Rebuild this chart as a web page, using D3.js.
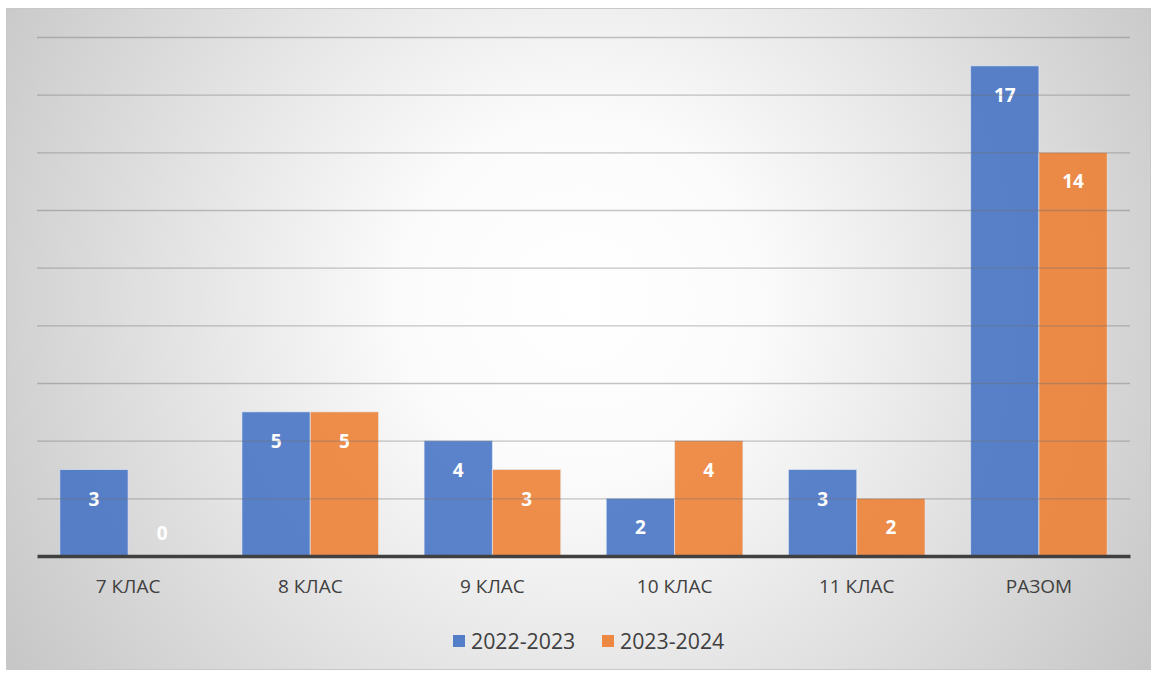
<!DOCTYPE html>
<html><head><meta charset="utf-8">
<script src="https://cdn.jsdelivr.net/npm/d3@7"></script>
<style>body{margin:0;background:#fff}svg{display:block}</style>
</head><body>
<svg id="c" width="1157" height="674"></svg>
<script>
const categories = ["7 КЛАС","8 КЛАС","9 КЛАС","10 КЛАС","11 КЛАС","РАЗОМ"];
const seriesNames = ["2022-2023","2023-2024"];
const values2022 = [3,5,4,2,3,17];
const values2023 = [0,5,3,4,2,14];
const gridTicks = [0,2,4,6,8,10,12,14,16,18];
const colors = ["#4472c4","#ed7d31"];

const svg = d3.select("#c");
const defs = svg.append("defs");
const rg = defs.append("radialGradient").attr("id","bg").attr("gradientUnits","userSpaceOnUse")
  .attr("cx",580).attr("cy",300).attr("r",720);
rg.append("stop").attr("offset","0").attr("stop-color","#ffffff");
rg.append("stop").attr("offset","0.25").attr("stop-color","#fbfbfb");
rg.append("stop").attr("offset","1").attr("stop-color","#c2c2c2");

svg.append("rect").attr("x",6.5).attr("y",8.5).attr("width",1144).attr("height",661)
  .attr("fill","url(#bg)").attr("stroke","#c8c8c8").attr("stroke-width",1);

const x0 = d3.scaleBand().domain(categories).range([37,1130]).paddingInner(0.25).paddingOuter(0.125);
const x1 = d3.scaleBand().domain(seriesNames).range([0,x0.bandwidth()]);
const y = d3.scaleLinear().domain([0,18]).range([556,37]);

const g = svg.append("g");
const data = categories.map((c,i)=>({c, vals:[values2022[i],values2023[i]]}));

const groups = g.selectAll("g.cat").data(data).join("g").attr("transform",d=>`translate(${x0(d.c)},0)`);
groups.selectAll("rect").data(d=>d.vals.map((v,j)=>({v,j}))).join("rect")
  .attr("x",d=>x1(seriesNames[d.j])).attr("width",x1.bandwidth())
  .attr("y",d=>y(d.v)).attr("height",d=>y(0)-y(d.v))
  .attr("fill",d=>colors[d.j]).attr("fill-opacity",0.88)
  .attr("stroke","#e8eef8").attr("stroke-opacity",0.6).attr("stroke-width",1);

// gridlines (drawn over bars, faint)
g.selectAll("line.grid").data(gridTicks.filter(t=>t>0)).join("line")
  .attr("x1",37).attr("x2",1130).attr("y1",d=>y(d)+0.5).attr("y2",d=>y(d)+0.5)
  .attr("stroke","#6f6f6f").attr("stroke-opacity",0.4).attr("stroke-width",1.3);

// labels
groups.selectAll("text").data(d=>d.vals.map((v,j)=>({v,j}))).join("text")
  .attr("x",d=>x1(seriesNames[d.j])+x1.bandwidth()/2)
  .attr("y",d=>Math.min(y(d.v)+36, y(0)-16))
  .attr("text-anchor","middle").attr("fill","#fff")
  .attr("font-family","'Open Sans', Calibri, sans-serif").attr("font-weight","bold").attr("font-size",19)
  .text(d=>d.v);

// baseline axis
const xAxis = d3.axisBottom(x0).tickSize(0).tickPadding(24);
const ax = svg.append("g").attr("transform",`translate(0,${y(0)})`).call(xAxis);
ax.select(".domain").attr("stroke","#404040").attr("stroke-width",3.5);
ax.selectAll("text").attr("fill","#404040").attr("font-size",19)
  .attr("font-family","'Open Sans', Calibri, sans-serif");

// legend
const leg = svg.append("g");
const legItems = [{n:seriesNames[0],c:colors[0],x:453},{n:seriesNames[1],c:colors[1],x:602}];
legItems.forEach(it=>{
  leg.append("rect").attr("x",it.x).attr("y",635).attr("width",12).attr("height",12).attr("fill",it.c).attr("fill-opacity",0.9);
  leg.append("text").attr("x",it.x+18).attr("y",649).attr("fill","#404040").attr("font-size",21.3)
    .attr("font-family","'Open Sans', Calibri, sans-serif").text(it.n);
});
</script>
</body></html>
